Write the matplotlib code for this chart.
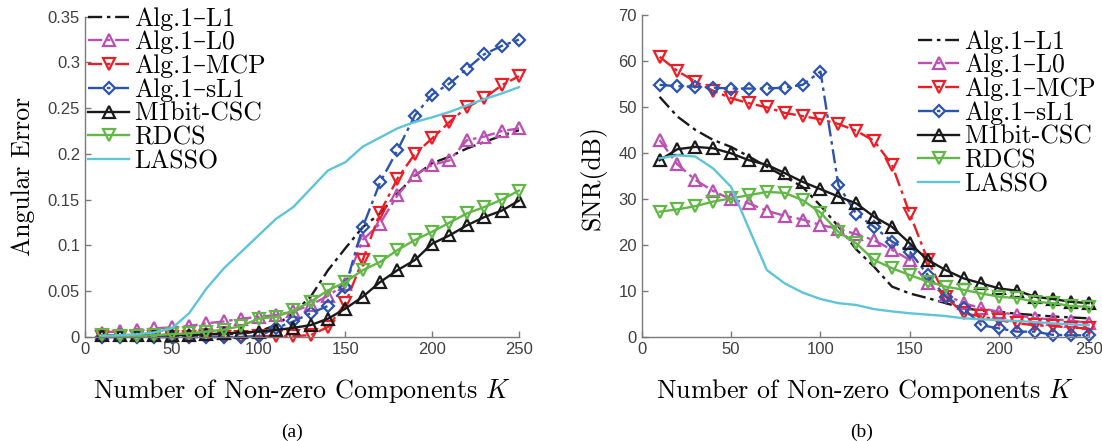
"""Angular error and SNR versus sparsity K for the 1-bit CS algorithms."""

import matplotlib
matplotlib.use("Agg")
import matplotlib.pyplot as plt

plt.rcParams["mathtext.fontset"] = "cm"

K = list(range(10, 260, 10))

series_names = ["Alg.1–L1", "Alg.1–L0", "Alg.1–MCP", "Alg.1–sL1", "M1bit-CSC", "RDCS", "LASSO"]

# (a) angular error
err_l1 = [0.001, 0.001, 0.001, 0.002, 0.002, 0.002, 0.003, 0.003, 0.004, 0.006, 0.013, 0.026, 0.044,
          0.073, 0.097, 0.120, 0.135, 0.157, 0.176, 0.190, 0.197, 0.206, 0.213, 0.220, 0.226]
err_l0 = [0.0047, 0.0065, 0.0077, 0.0095, 0.0105, 0.012, 0.015, 0.017, 0.020, 0.022, 0.024, 0.028, 0.035,
          0.045, 0.058, 0.106, 0.124, 0.155, 0.177, 0.188, 0.193, 0.215, 0.219, 0.225, 0.228]
err_mcp = [0.0, 0.0, 0.0, 0.0, 0.0, 0.0, 0.0, 0.0, 0.0, 0.001, 0.001, 0.001, 0.002,
           0.011, 0.037, 0.084, 0.136, 0.173, 0.200, 0.217, 0.235, 0.251, 0.261, 0.275, 0.285]
err_sl1 = [0.0, 0.0, 0.0, 0.0, 0.0, 0.0, 0.0, 0.0, 0.0, 0.001, 0.0095, 0.017, 0.026,
           0.034, 0.055, 0.120, 0.169, 0.204, 0.242, 0.265, 0.277, 0.293, 0.309, 0.318, 0.325]
err_m1bit = [0.002, 0.002, 0.002, 0.002, 0.002, 0.002, 0.003, 0.004, 0.005, 0.006, 0.0076, 0.010, 0.013,
             0.020, 0.031, 0.044, 0.060, 0.073, 0.084, 0.102, 0.111, 0.122, 0.131, 0.138, 0.149]
err_rdcs = [0.002, 0.001, 0.001, 0.002, 0.003, 0.004, 0.006, 0.008, 0.012, 0.020, 0.022, 0.029, 0.0385,
            0.051, 0.060, 0.073, 0.082, 0.095, 0.106, 0.115, 0.125, 0.135, 0.142, 0.150, 0.160]
err_lasso = [0.001, 0.002, 0.003, 0.005, 0.0095, 0.026, 0.053, 0.075, 0.093, 0.111, 0.129, 0.142, 0.162,
             0.182, 0.191, 0.208, 0.218, 0.228, 0.235, 0.240, 0.246, 0.253, 0.260, 0.266, 0.273]

# (b) SNR in dB
snr_l1 = [52.2, 47.9, 45.0, 42.8, 41.3, 39.2, 37.0, 34.8, 32.6, 28.5, 24.0, 19.0, 15.2,
          10.9, 9.4, 8.4, 7.3, 6.2, 5.7, 5.4, 5.0, 4.7, 4.4, 4.2, 4.0]
snr_l0 = [42.8, 37.5, 34.1, 31.7, 29.9, 29.0, 27.4, 26.3, 25.5, 24.3, 23.5, 22.3, 21.0,
          18.9, 16.7, 11.6, 9.1, 7.3, 6.2, 5.4, 4.7, 4.0, 3.8, 3.5, 3.0]
snr_mcp = [60.9, 57.8, 55.5, 53.5, 51.9, 50.8, 49.9, 48.7, 48.0, 47.3, 46.3, 44.8, 42.6,
           37.4, 26.7, 16.7, 8.7, 5.1, 4.4, 3.6, 2.9, 2.5, 2.3, 2.0, 1.8]
snr_sl1 = [54.8, 54.5, 54.4, 54.2, 54.0, 54.0, 54.0, 54.2, 54.8, 57.7, 33.0, 26.7, 23.9,
           20.7, 18.5, 13.4, 8.7, 6.2, 2.5, 1.8, 1.1, 1.1, 0.4, 0.3, 0.3]
snr_m1bit = [38.4, 40.8, 41.3, 41.0, 39.9, 38.4, 37.4, 35.6, 33.7, 32.1, 30.5, 29.0, 26.1,
             23.9, 20.3, 16.7, 14.5, 12.7, 11.6, 10.5, 10.0, 8.7, 8.2, 7.6, 7.3]
snr_rdcs = [27.2, 27.7, 28.4, 29.4, 30.1, 30.8, 31.5, 31.3, 29.7, 27.0, 22.8, 20.3, 16.7,
            14.9, 13.4, 12.0, 10.9, 10.2, 9.4, 8.7, 8.4, 7.6, 7.3, 6.7, 6.5]
snr_lasso = [38.8, 39.5, 39.2, 36.6, 32.6, 23.5, 14.5, 11.6, 9.6, 8.2, 7.3, 6.9, 6.0,
             5.5, 5.1, 4.8, 4.5, 4.0, 3.8, 3.6, 3.4, 3.2, 2.9, 2.7, 2.5]

dashdot = (0, (6, 2, 1.5, 2))
styles = [
    dict(color="#1a1a1a", linestyle=dashdot, marker=None),
    dict(color="#BD4FB3", linestyle=dashdot, marker="^"),
    dict(color="#EE1D25", linestyle=dashdot, marker="v"),
    dict(color="#2C54AE", linestyle=dashdot, marker="D", markersize=6.5),
    dict(color="#1a1a1a", linestyle="-", marker="^"),
    dict(color="#62B846", linestyle="-", marker="v"),
    dict(color="#5EC5D8", linestyle="-", marker=None),
]

label_font = ["cmr10", "DejaVu Serif"]
tick_font = ["Liberation Sans", "DejaVu Sans"]
axis_gray = "#7a7a7a"
tick_gray = "#404040"

fig = plt.figure(figsize=(11.02, 4.41), dpi=100)
ax_a = fig.add_axes([0.0771, 0.2358, 0.3938, 0.7263])
ax_b = fig.add_axes([0.5823, 0.2365, 0.4056, 0.7295])


def draw(ax, data):
    for name, values, style in zip(series_names, data, styles):
        st = dict(style)
        ms = st.pop("markersize", 8)
        ax.plot(K, values, label=name, linewidth=1.7, markersize=ms,
                markerfacecolor="none", markeredgewidth=1.6, clip_on=False, **st)
    for side in ("top", "right"):
        ax.spines[side].set_visible(False)
    for side in ("left", "bottom"):
        ax.spines[side].set_color(axis_gray)
        ax.spines[side].set_linewidth(1.0)
    ax.tick_params(direction="in", length=4, width=1.0, color=axis_gray,
                   labelcolor=tick_gray, labelsize=12)
    ax.set_xlim(0, 250)
    ax.set_xticks([0, 50, 100, 150, 200, 250])
    ax.set_xticklabels(["0", "50", "100", "150", "200", "250"], family=tick_font)
    ax.set_xlabel("Number of Non-zero Components $K$", family=label_font, fontsize=18.8)
    ax.xaxis.set_label_coords(0.5, -0.125)


draw(ax_a, [err_l1, err_l0, err_mcp, err_sl1, err_m1bit, err_rdcs, err_lasso])
ax_a.set_ylim(0, 0.35)
ax_a.set_yticks([0, 0.05, 0.1, 0.15, 0.2, 0.25, 0.3, 0.35])
ax_a.set_yticklabels(["0", "0.05", "0.1", "0.15", "0.2", "0.25", "0.3", "0.35"], family=tick_font)
ax_a.set_ylabel("Angular Error", family=label_font, fontsize=18.5)
ax_a.yaxis.set_label_coords(-0.115, 0.5)

draw(ax_b, [snr_l1, snr_l0, snr_mcp, snr_sl1, snr_m1bit, snr_rdcs, snr_lasso])
ax_b.set_ylim(0, 70)
ax_b.set_yticks(range(0, 80, 10))
ax_b.set_yticklabels([str(v) for v in range(0, 80, 10)], family=tick_font)
ax_b.set_ylabel("SNR(dB)", family=label_font, fontsize=18.5)
ax_b.yaxis.set_label_coords(-0.078, 0.495)

legend_kw = dict(frameon=False, prop={"family": label_font, "size": 18.5}, handlelength=1.6,
                 handletextpad=0.2, borderpad=0, borderaxespad=0, labelspacing=0.0)
fig.legend(*ax_a.get_legend_handles_labels(), loc="upper left",
           bbox_to_anchor=(88 / 1102, 1 - 7 / 441), **legend_kw)
fig.legend(*ax_b.get_legend_handles_labels(), loc="upper left",
           bbox_to_anchor=(918 / 1102, 1 - 30 / 441), **legend_kw)

fig.text(292.5 / 1102, 1 - 432 / 441, "(a)", family=["Liberation Serif"], fontsize=14,
         ha="center", va="center")
fig.text(861.5 / 1102, 1 - 432 / 441, "(b)", family=["Liberation Serif"], fontsize=14,
         ha="center", va="center")

fig.savefig("out.png", dpi=100)
